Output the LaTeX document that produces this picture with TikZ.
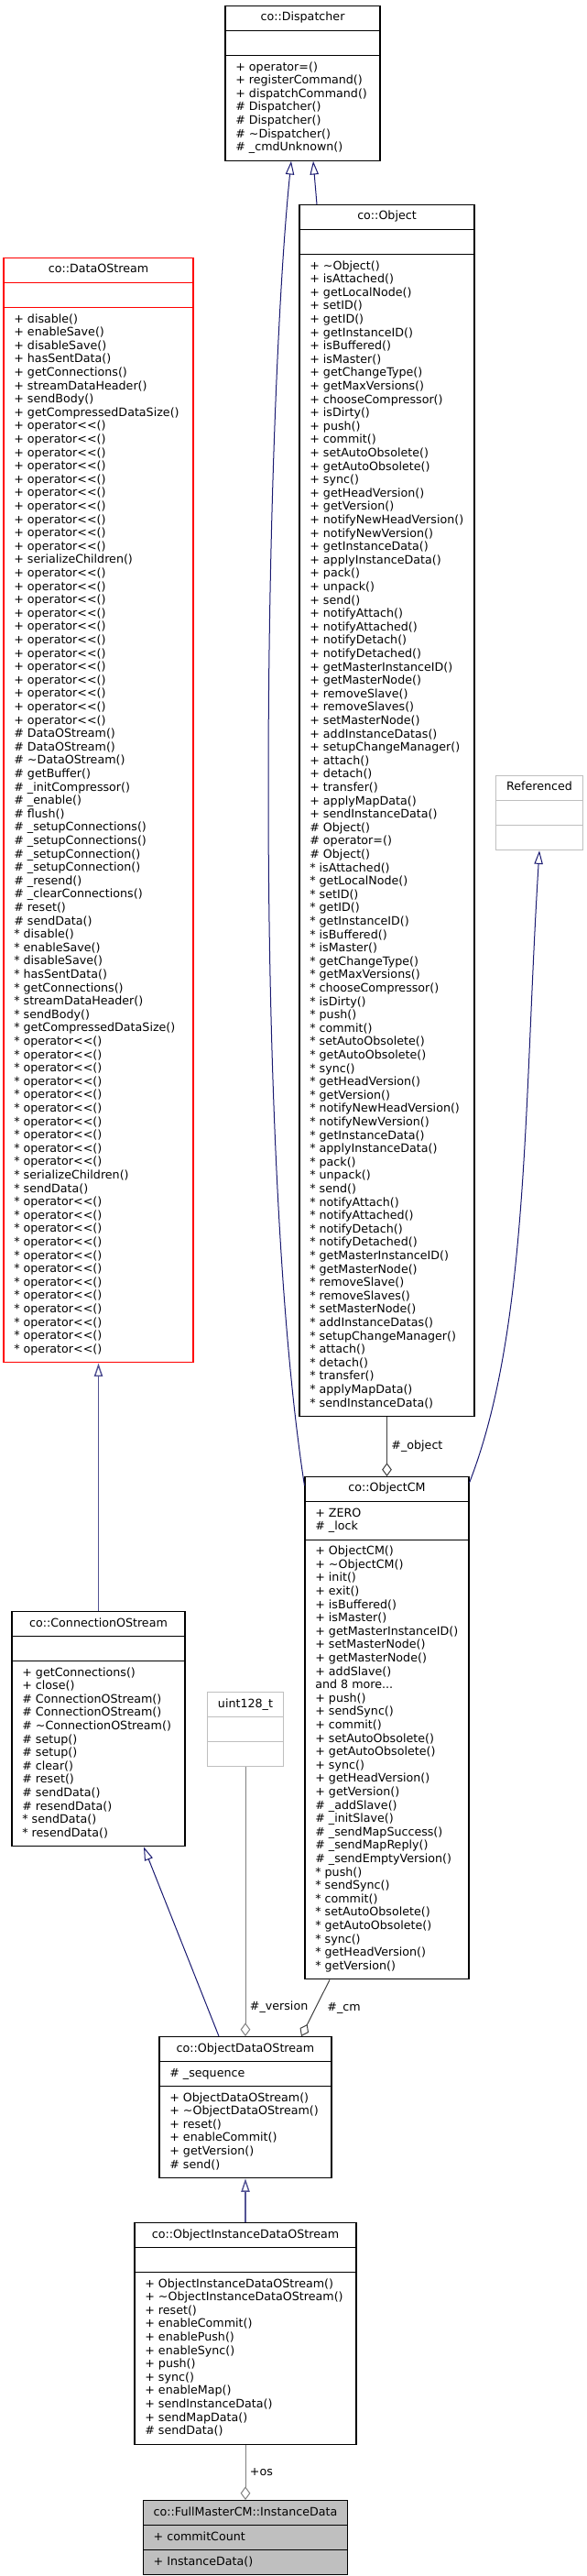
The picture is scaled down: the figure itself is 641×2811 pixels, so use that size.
\documentclass[tikz,border=0pt]{standalone}
\usepackage{fontspec}
\setmainfont{DejaVu Sans}
\usetikzlibrary{shapes.multipart,arrows.meta,positioning}
\definecolor{edgeblue}{RGB}{25, 25, 112}
\definecolor{edgegrey}{RGB}{64, 64, 64}
\definecolor{boxgrey}{RGB}{191, 191, 191}
\newcommand{\ml}[1]{\strut#1}
\newcommand{\members}[1]{\begin{tabular}{@{}l@{}}#1\end{tabular}}
\newcommand{\shl}{operator<\kern0pt<()}

\begin{document}
\begin{tikzpicture}[
    x=0.75pt, y=-0.75pt,
    every node/.style={font=\fontsize{9.5pt}{10.95pt}\selectfont},
    cls/.style={rectangle split, rectangle split parts=3, rectangle split part align={center,left,left}, draw=black, fill=white, line width=0.8pt, inner xsep=8.5pt, inner ysep=4.27pt, anchor=north},
    partial/.style={cls, draw=red},
    extern/.style={cls, draw=boxgrey},
    current/.style={cls, fill=boxgrey},
    inherit/.style={draw=edgeblue, line width=0.75pt, -{Triangle[open, length=11pt, width=7pt]}},
    aggr/.style={draw=edgegrey, line width=0.75pt, {Diamond[open, length=11pt, width=8pt]}-}
]
\useasboundingbox (0,0) rectangle (641,2811);

% Base classes
\node[cls, minimum width=169*0.75pt] (disp) at (330.5,6) {\ml{co::Dispatcher}
  \nodepart{two}\strut
  \nodepart{three}\members{\ml{+ operator=()}\\\ml{+ registerCommand()}\\\ml{+ dispatchCommand()}\\\ml{\# Dispatcher()}\\\ml{\# Dispatcher()}\\\ml{\# \textasciitilde Dispatcher()}\\\ml{\# \_cmdUnknown()}}};

\node[extern, minimum width=94*0.75pt] (ref) at (589,846) {\ml{Referenced}
  \nodepart{two}\strut
  \nodepart{three}\strut};

\node[partial, minimum width=207*0.75pt] (dos) at (107.5,281) {\ml{co::DataOStream}
  \nodepart{two}\strut
  \nodepart{three}\members{\ml{+ disable()}\\\ml{+ enableSave()}\\\ml{+ disableSave()}\\\ml{+ hasSentData()}\\
  \ml{+ getConnections()}\\\ml{+ streamDataHeader()}\\\ml{+ sendBody()}\\\ml{+ getCompressedDataSize()}\\
  \ml{+ \shl}\\\ml{+ \shl}\\\ml{+ \shl}\\\ml{+ \shl}\\\ml{+ \shl}\\
  \ml{+ \shl}\\\ml{+ \shl}\\\ml{+ \shl}\\\ml{+ \shl}\\\ml{+ \shl}\\
  \ml{+ serializeChildren()}\\
  \ml{+ \shl}\\\ml{+ \shl}\\\ml{+ \shl}\\\ml{+ \shl}\\\ml{+ \shl}\\\ml{+ \shl}\\
  \ml{+ \shl}\\\ml{+ \shl}\\\ml{+ \shl}\\\ml{+ \shl}\\\ml{+ \shl}\\\ml{+ \shl}\\
  \ml{\# DataOStream()}\\\ml{\# DataOStream()}\\\ml{\# \textasciitilde DataOStream()}\\\ml{\# getBuffer()}\\
  \ml{\# \_initCompressor()}\\\ml{\# \_enable()}\\\ml{\# flush()}\\\ml{\# \_setupConnections()}\\\ml{\# \_setupConnections()}\\
  \ml{\# \_setupConnection()}\\\ml{\# \_setupConnection()}\\\ml{\# \_resend()}\\\ml{\# \_clearConnections()}\\
  \ml{\# reset()}\\\ml{\# sendData()}\\
  \ml{* disable()}\\\ml{* enableSave()}\\\ml{* disableSave()}\\\ml{* hasSentData()}\\
  \ml{* getConnections()}\\\ml{* streamDataHeader()}\\\ml{* sendBody()}\\\ml{* getCompressedDataSize()}\\
  \ml{* \shl}\\\ml{* \shl}\\\ml{* \shl}\\\ml{* \shl}\\\ml{* \shl}\\
  \ml{* \shl}\\\ml{* \shl}\\\ml{* \shl}\\\ml{* \shl}\\\ml{* \shl}\\
  \ml{* serializeChildren()}\\\ml{* sendData()}\\
  \ml{* \shl}\\\ml{* \shl}\\\ml{* \shl}\\\ml{* \shl}\\\ml{* \shl}\\\ml{* \shl}\\
  \ml{* \shl}\\\ml{* \shl}\\\ml{* \shl}\\\ml{* \shl}\\\ml{* \shl}\\\ml{* \shl}}};

\node[cls, minimum width=191*0.75pt] (obj) at (422.5,223) {\ml{co::Object}
  \nodepart{two}\strut
  \nodepart{three}\members{\ml{+ \textasciitilde Object()}\\\ml{+ isAttached()}\\\ml{+ getLocalNode()}\\\ml{+ setID()}\\\ml{+ getID()}\\
  \ml{+ getInstanceID()}\\\ml{+ isBuffered()}\\\ml{+ isMaster()}\\\ml{+ getChangeType()}\\\ml{+ getMaxVersions()}\\
  \ml{+ chooseCompressor()}\\\ml{+ isDirty()}\\\ml{+ push()}\\\ml{+ commit()}\\\ml{+ setAutoObsolete()}\\
  \ml{+ getAutoObsolete()}\\\ml{+ sync()}\\\ml{+ getHeadVersion()}\\\ml{+ getVersion()}\\\ml{+ notifyNewHeadVersion()}\\
  \ml{+ notifyNewVersion()}\\\ml{+ getInstanceData()}\\\ml{+ applyInstanceData()}\\\ml{+ pack()}\\\ml{+ unpack()}\\
  \ml{+ send()}\\\ml{+ notifyAttach()}\\\ml{+ notifyAttached()}\\\ml{+ notifyDetach()}\\\ml{+ notifyDetached()}\\
  \ml{+ getMasterInstanceID()}\\\ml{+ getMasterNode()}\\\ml{+ removeSlave()}\\\ml{+ removeSlaves()}\\\ml{+ setMasterNode()}\\
  \ml{+ addInstanceDatas()}\\\ml{+ setupChangeManager()}\\\ml{+ attach()}\\\ml{+ detach()}\\\ml{+ transfer()}\\
  \ml{+ applyMapData()}\\\ml{+ sendInstanceData()}\\
  \ml{\# Object()}\\\ml{\# operator=()}\\\ml{\# Object()}\\
  \ml{* isAttached()}\\\ml{* getLocalNode()}\\\ml{* setID()}\\\ml{* getID()}\\
  \ml{* getInstanceID()}\\\ml{* isBuffered()}\\\ml{* isMaster()}\\\ml{* getChangeType()}\\\ml{* getMaxVersions()}\\
  \ml{* chooseCompressor()}\\\ml{* isDirty()}\\\ml{* push()}\\\ml{* commit()}\\\ml{* setAutoObsolete()}\\
  \ml{* getAutoObsolete()}\\\ml{* sync()}\\\ml{* getHeadVersion()}\\\ml{* getVersion()}\\\ml{* notifyNewHeadVersion()}\\
  \ml{* notifyNewVersion()}\\\ml{* getInstanceData()}\\\ml{* applyInstanceData()}\\\ml{* pack()}\\\ml{* unpack()}\\
  \ml{* send()}\\\ml{* notifyAttach()}\\\ml{* notifyAttached()}\\\ml{* notifyDetach()}\\\ml{* notifyDetached()}\\
  \ml{* getMasterInstanceID()}\\\ml{* getMasterNode()}\\\ml{* removeSlave()}\\\ml{* removeSlaves()}\\\ml{* setMasterNode()}\\
  \ml{* addInstanceDatas()}\\\ml{* setupChangeManager()}\\\ml{* attach()}\\\ml{* detach()}\\\ml{* transfer()}\\
  \ml{* applyMapData()}\\\ml{* sendInstanceData()}}};

% Change manager and streams
\node[cls, minimum width=179*0.75pt] (objcm) at (422.5,1611) {\ml{co::ObjectCM}
  \nodepart{two}\members{\ml{+ ZERO}\\\ml{\# \_lock}}
  \nodepart{three}\members{\ml{+ ObjectCM()}\\\ml{+ \textasciitilde ObjectCM()}\\\ml{+ init()}\\\ml{+ exit()}\\\ml{+ isBuffered()}\\
  \ml{+ isMaster()}\\\ml{+ getMasterInstanceID()}\\\ml{+ setMasterNode()}\\\ml{+ getMasterNode()}\\\ml{+ addSlave()}\\
  \ml{and 8 more...}\\
  \ml{+ push()}\\\ml{+ sendSync()}\\\ml{+ commit()}\\\ml{+ setAutoObsolete()}\\\ml{+ getAutoObsolete()}\\
  \ml{+ sync()}\\\ml{+ getHeadVersion()}\\\ml{+ getVersion()}\\
  \ml{\# \_addSlave()}\\\ml{\# \_initSlave()}\\\ml{\# \_sendMapSuccess()}\\\ml{\# \_sendMapReply()}\\\ml{\# \_sendEmptyVersion()}\\
  \ml{* push()}\\\ml{* sendSync()}\\\ml{* commit()}\\\ml{* setAutoObsolete()}\\\ml{* getAutoObsolete()}\\
  \ml{* sync()}\\\ml{* getHeadVersion()}\\\ml{* getVersion()}}};

\node[cls, minimum width=189*0.75pt] (conn) at (107.5,1758) {\ml{co::ConnectionOStream}
  \nodepart{two}\strut
  \nodepart{three}\members{\ml{+ getConnections()}\\\ml{+ close()}\\\ml{\# ConnectionOStream()}\\\ml{\# ConnectionOStream()}\\
  \ml{\# \textasciitilde ConnectionOStream()}\\\ml{\# setup()}\\\ml{\# setup()}\\\ml{\# clear()}\\\ml{\# reset()}\\
  \ml{\# sendData()}\\\ml{\# resendData()}\\\ml{* sendData()}\\\ml{* resendData()}}};

\node[extern, minimum width=82*0.75pt] (uint) at (268,1846) {\ml{uint128\_t}
  \nodepart{two}\strut
  \nodepart{three}\strut};

\node[cls, minimum width=188*0.75pt] (odos) at (268,2222) {\ml{co::ObjectDataOStream}
  \nodepart{two}\ml{\# \_sequence}
  \nodepart{three}\members{\ml{+ ObjectDataOStream()}\\\ml{+ \textasciitilde ObjectDataOStream()}\\\ml{+ reset()}\\
  \ml{+ enableCommit()}\\\ml{+ getVersion()}\\\ml{\# send()}}};

\node[cls, minimum width=242*0.75pt] (oidos) at (268,2425) {\ml{co::ObjectInstanceDataOStream}
  \nodepart{two}\strut
  \nodepart{three}\members{\ml{+ ObjectInstanceDataOStream()}\\\ml{+ \textasciitilde ObjectInstanceDataOStream()}\\
  \ml{+ reset()}\\\ml{+ enableCommit()}\\\ml{+ enablePush()}\\\ml{+ enableSync()}\\\ml{+ push()}\\\ml{+ sync()}\\
  \ml{+ enableMap()}\\\ml{+ sendInstanceData()}\\\ml{+ sendMapData()}\\\ml{\# sendData()}}};

\node[current, minimum width=222*0.75pt] (inst) at (268,2728) {\ml{co::FullMasterCM::InstanceData}
  \nodepart{two}\ml{+ commitCount}
  \nodepart{three}\ml{+ InstanceData()}};

% Inheritance
\draw[inherit] ([shift={(-76.5,0)}]obj.north) -- ([shift={(11.5,0)}]disp.south);
\draw[inherit] ([shift={(0,10)}]objcm.north west) .. controls (275,1250) and (290,450) .. ([shift={(-12.5,0)}]disp.south);
\draw[inherit] ([shift={(0,7)}]objcm.north east) .. controls (578,1450) and (572,1200) .. (ref.south);
\draw[inherit, draw=edgeblue!75, line width=1.1pt] (conn.north) -- (dos.south);
\draw[inherit] ([shift={(-29,0)}]odos.north) -- ([shift={(49.5,0)}]conn.south);
\draw[inherit, draw=edgeblue!75, line width=1.1pt] (oidos.north) -- (odos.south);

% Members
\draw[aggr] (objcm.north) -- (obj.south) node[midway, right] {\#\_object};
\draw[aggr, draw=gray] (odos.north) -- (uint.south) node[pos=0.11, right] {\#\_version};
\draw[aggr] ([shift={(61,0)}]odos.north) -- ([shift={(-62.5,0)}]objcm.south) node[midway, right=6pt] {\#\_cm};
\draw[aggr, draw=gray] (inst.north) -- (oidos.south) node[midway, right] {+os};

\end{tikzpicture}
\end{document}
